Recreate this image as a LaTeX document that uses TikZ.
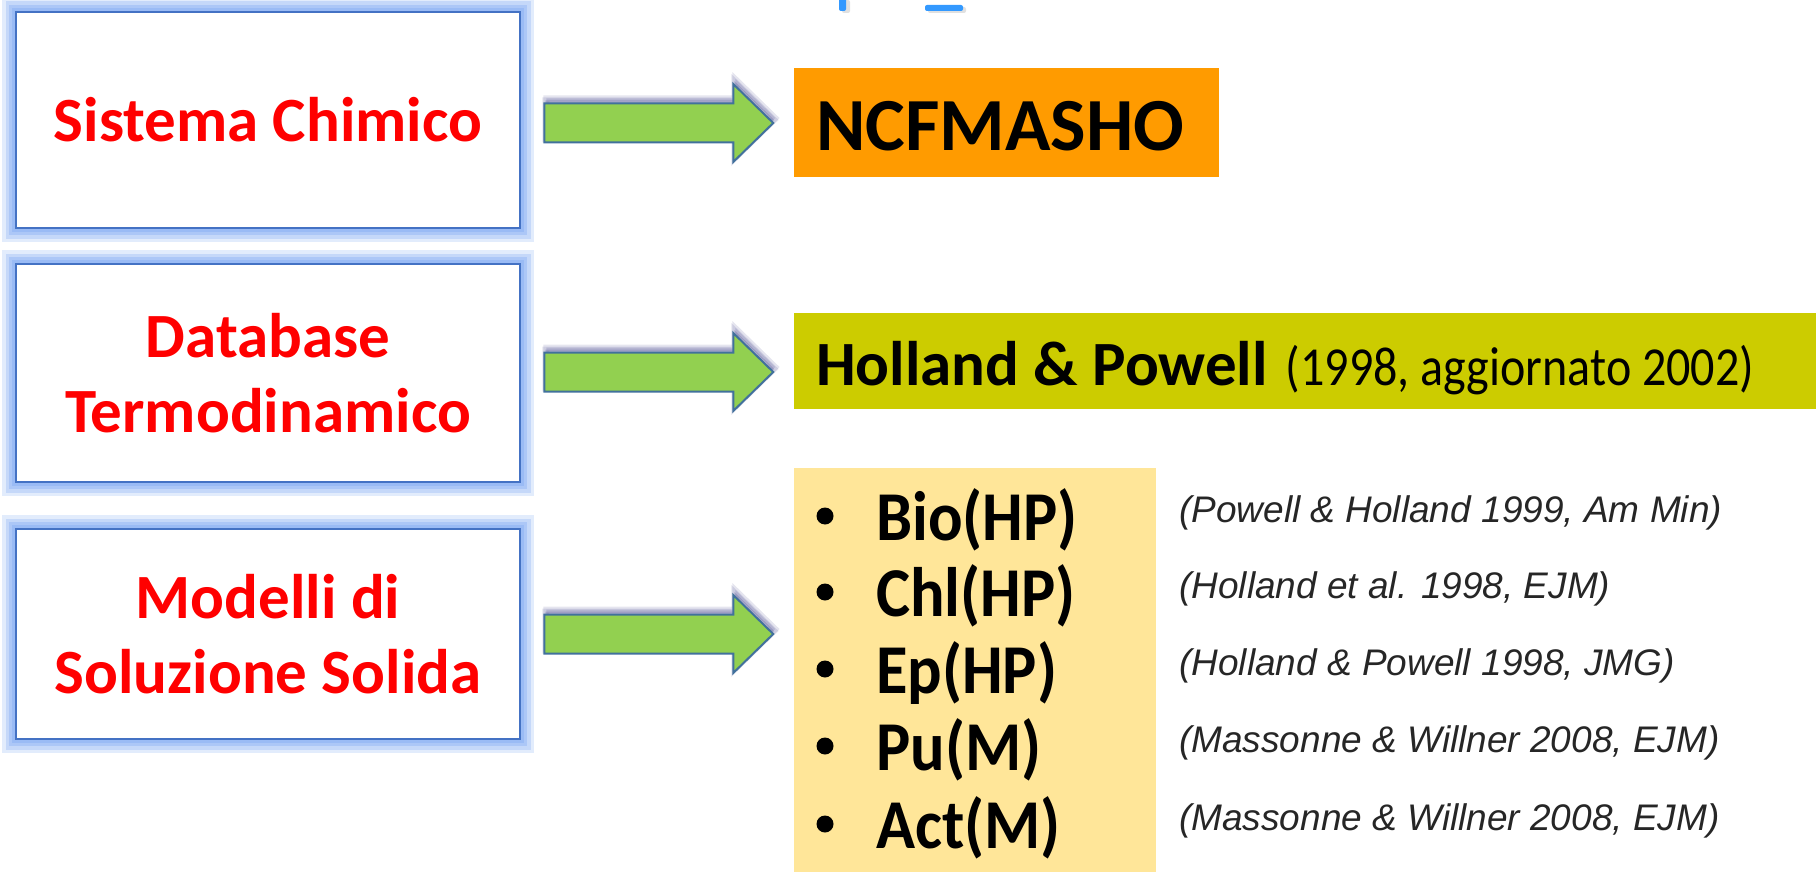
\documentclass[tikz,border=0pt]{standalone}
\usepackage{fontspec}
\usepackage{graphicx}
\setmainfont{Carlito}
\newfontfamily\citefont{Liberation Sans}
\definecolor{boxblue}{HTML}{4472C4}
\definecolor{glowc}{HTML}{8FB4F5}
\definecolor{arrfill}{HTML}{92D050}
\definecolor{arrline}{HTML}{41719C}
\definecolor{orangebg}{HTML}{FF9B00}
\definecolor{olivebg}{HTML}{CCCC00}
\definecolor{paleyel}{HTML}{FFE699}
\definecolor{tealblue}{HTML}{3399FF}
\tikzset{
  leftbox/.style={draw=boxblue, line width=2.5pt, fill=white,
    minimum width=504pt, inner sep=0pt, align=center, text=red,
    font=\bfseries\fontsize{63}{75}\selectfont,
    preaction={draw=glowc, draw opacity=0.25, line width=28pt, rounded corners=12pt},
    preaction={draw=glowc, draw opacity=0.35, line width=21pt, rounded corners=8pt},
    preaction={draw=glowc, draw opacity=0.45, line width=14pt, rounded corners=5pt},
    preaction={draw=glowc, draw opacity=0.6, line width=8pt}},
  bgbox/.style={anchor=north west, inner sep=0pt},
  itemtxt/.style={anchor=base west, inner sep=0pt, font=\bfseries\fontsize{70}{80}\selectfont},
  bulletdot/.style={circle, fill=black, inner sep=0pt, minimum size=17pt},
  citetxt/.style={anchor=base west, inner sep=0pt, text=black!85, font=\citefont\itshape\fontsize{37}{40}\selectfont},
  blockarrow/.style={fill=arrfill, draw=arrline, line width=2pt, line join=miter},
  arrshadow/.style={fill=black!60!blue, fill opacity=0.12, draw=black!60!blue, draw opacity=0.1, line width=6pt}
}
\newcommand\barrow[1]{%
  \begin{scope}[shift={(#1)}]
    \foreach \dx/\dy/\op in {2/-5/0.12, 1/-3/0.15}{
      \path[arrshadow, fill opacity=\op, shift={(\dx,\dy)}]
        (0,-19.5) -- (189,-19.5) -- (189,-39) -- (229,0) -- (189,39) -- (189,19.5) -- (0,19.5) -- cycle;}
    \draw[blockarrow] (0,-19.5) -- (189,-19.5) -- (189,-39) -- (229,0) -- (189,39) -- (189,19.5) -- (0,19.5) -- cycle;
  \end{scope}}
\begin{document}
\begin{tikzpicture}[x=1pt,y=-1pt]
\useasboundingbox (0,0) rectangle (1816,872);
\fill[white] (0,0) rectangle (1816,872);

% cut-off title fragments at top
\fill[black!40, opacity=0.3, rounded corners=2pt] (842,0) rectangle (850,13);
\fill[tealblue, rounded corners=2pt] (839,-3) rectangle (846,11);
\fill[black!40, opacity=0.3, rounded corners=2pt] (928,7) rectangle (966,13);
\fill[tealblue, rounded corners=2pt] (925,5) rectangle (963,11);

% left boxes
\node[leftbox, minimum height=216pt] (b1) at (268,120) {Sistema Chimico};
\node[leftbox, minimum height=218pt] (b2) at (268,373) {Database\\Termodinamico};
\node[leftbox, minimum height=210pt] (b3) at (268,634) {Modelli di\\Soluzione Solida};

% right boxes
\node[bgbox, fill=orangebg, minimum width=425pt, minimum height=109pt] (r1) at (794,68) {};
\node[anchor=base west, inner sep=0pt, font=\bfseries\fontsize{75}{80}\selectfont] (r1t) at (816,150.5) {NCFMASHO};

\node[bgbox, fill=olivebg, minimum width=1030pt, minimum height=96pt] (r2) at (794,313) {};
\node[anchor=base west, inner sep=0pt] (r2t) at (816,385.6)
  {{\bfseries\fontsize{63}{70}\selectfont Holland \& Powell}\hspace{18pt}\scalebox{0.874}[1]{\fontsize{55}{60}\selectfont(1998, aggiornato 2002)}};

\node[bgbox, fill=paleyel, minimum width=362pt, minimum height=410pt] (r3) at (794,468) {};

% arrows from boxes to results
\coordinate (a1) at ([xshift=23pt]b1.east |- 0,123);
\coordinate (a2) at ([xshift=23pt]b2.east |- 0,372);
\coordinate (a3) at ([xshift=23pt]b3.east |- 0,634);
\barrow{a1}
\barrow{a2}
\barrow{a3}

% list of solution models
\foreach \y/\nm/\txt/\cit in {
  540/i1/Bio(HP)/(Powell \& Holland 1999{,} Am Min),
  616/i2/Chl(HP)/(Holland et al. 1998{,} EJM),
  693/i3/Ep(HP)/(Holland \& Powell 1998{,} JMG),
  770/i4/Pu(M)/(Massonne \& Willner 2008{,} EJM),
  848/i5/Act(M)/(Massonne \& Willner 2008{,} EJM)}{
  \node[bulletdot] (\nm b) at (825,\y-24) {};
  \node[itemtxt] (\nm) at (876,\y) {\scalebox{0.92}[1]{\txt}};
  \node[citetxt] (\nm c) at (1179,\y-18) {\cit};
}
\end{tikzpicture}
\end{document}
